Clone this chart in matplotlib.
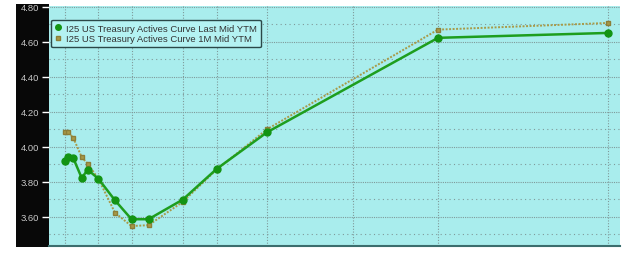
import numpy as np
import matplotlib
matplotlib.use("Agg")
import matplotlib.pyplot as plt
from matplotlib.patches import Rectangle

# ---- data: tenors in years and yields (%) ----
tenors = [1/12, 1.5/12, 2/12, 3/12, 4/12, 0.5, 1, 2, 3, 5, 7, 10, 20, 30]
last_mid = [3.918, 3.944, 3.935, 3.822, 3.869, 3.818, 3.694, 3.586, 3.586,
            3.698, 3.874, 4.083, 4.623, 4.651]
one_m_mid = [4.083, 4.083, 4.051, 3.941, 3.903, 3.818, 3.623, 3.547, 3.552,
             3.685, 3.870, 4.100, 4.670, 4.708]
label_last = "I25 US Treasury Actives Curve Last Mid YTM"
label_1m = "I25 US Treasury Actives Curve 1M Mid YTM"
y_ticks = [3.60, 3.80, 4.00, 4.20, 4.40, 4.60, 4.80]
grid_tenors = [1/12, 0.5, 2, 5, 7, 10, 15, 20, 30]

# ---- Bloomberg-like maturity scale (piecewise linear, stretched short end) ----
knot_t = np.array([1/12, 1.5/12, 2/12, 3/12, 4/12, 0.5, 1, 2, 3, 5, 7, 10, 15, 20, 30])
knot_u = np.array([65, 68.3, 73.3, 81.7, 87.7, 98.3, 115, 131.5, 148.5, 182.7,
                   216.7, 267, 353, 438, 608])

def _interp_ext(x, xp, fp):
    x = np.asarray(x, dtype=float)
    y = np.interp(x, xp, fp)
    lo = x < xp[0]
    hi = x > xp[-1]
    s0 = (fp[1] - fp[0]) / (xp[1] - xp[0])
    s1 = (fp[-1] - fp[-2]) / (xp[-1] - xp[-2])
    y = np.where(lo, fp[0] + (x - xp[0]) * s0, y)
    y = np.where(hi, fp[-1] + (x - xp[-1]) * s1, y)
    return y

def fwd(t):
    return _interp_ext(t, knot_t, knot_u)

def inv(u):
    return _interp_ext(u, knot_u, knot_t)

# ---- figure ----
W, H = 629, 255
fig = plt.figure(figsize=(W / 100, H / 100), dpi=100)
fig.patch.set_facecolor("white")

ax_l, ax_r, ax_t, ax_b = 49, 620, 7, 247

# black strip behind y tick labels (drawn first)
fig.patches.append(Rectangle((16 / W, 1 - 248 / H), (ax_l - 16) / W, (248 - 5) / H,
                             transform=fig.transFigure, facecolor="#080808",
                             edgecolor="none", zorder=-5))

ax = fig.add_axes([ax_l / W, 1 - ax_b / H, (ax_r - ax_l) / W, (ax_b - ax_t) / H])
ax.set_zorder(1)

ax.set_facecolor("#a9eded")
ax.set_xscale("function", functions=(fwd, inv))
ax.set_xlim(inv(ax_l), inv(ax_r))
ax.set_ylim(3.433, 4.805)

ax.plot(tenors, one_m_mid, color="#a89a48", lw=1.4, ls=(0, (1, 0.8)),
        marker="s", ms=3.0, mfc="#a89a48", mec="#8c7e38", label=label_1m, zorder=3)
ax.plot(tenors, last_mid, color="#1e9e1e", lw=1.8, ls="-",
        marker="o", ms=5, mfc="#139413", mec="#139413", label=label_last, zorder=4)

# grid
ax.set_xticks(grid_tenors)
ax.set_xticklabels([])
ax.tick_params(axis="x", length=0)
ax.set_yticks(y_ticks)
ax.set_yticks(np.arange(3.5, 4.81, 0.2), minor=True)
ax.set_yticklabels([f"{v:.2f}" for v in y_ticks], fontfamily="Liberation Sans",
                   fontsize=6.8, color="#c8c8c8")
ax.tick_params(axis="y", which="major", length=5, width=1, color="white", pad=2)
ax.tick_params(axis="y", which="minor", length=0)
ax.grid(True, axis="y", which="major", color="#7f9a9a", ls=(0, (1, 1)), lw=0.8)
ax.grid(True, axis="y", which="minor", color="#7f9a9a", ls=(0, (1, 3)), lw=0.8)
ax.grid(True, axis="x", which="major", color="#7f9a9a", ls=(0, (1, 1.5)), lw=0.8)

for side in ["top", "right", "left"]:
    ax.spines[side].set_visible(False)
ax.spines["bottom"].set_color("#3c6e6e")
ax.spines["bottom"].set_linewidth(1.5)

handles, labels = ax.get_legend_handles_labels()
leg = ax.legend(handles[::-1], labels[::-1], loc="upper left",
                bbox_to_anchor=((51 - ax_l) / (ax_r - ax_l), (ax_b - 20.5) / (ax_b - ax_t)),
                borderaxespad=0, frameon=True, fancybox=True,
                prop={"family": "Liberation Sans", "size": 6.8},
                handlelength=0.6, handletextpad=0.5, borderpad=0.45,
                labelspacing=0.15, markerscale=0.8)
leg.get_frame().set_facecolor("#b4f2f2")
leg.get_frame().set_edgecolor("#2b4848")
leg.get_frame().set_linewidth(1.0)
leg.get_frame().set_alpha(1)
for txt in leg.get_texts():
    txt.set_color("#333333")
for h in leg.legend_handles:
    h.set_linestyle("none")

fig.savefig("out.png", dpi=100)
